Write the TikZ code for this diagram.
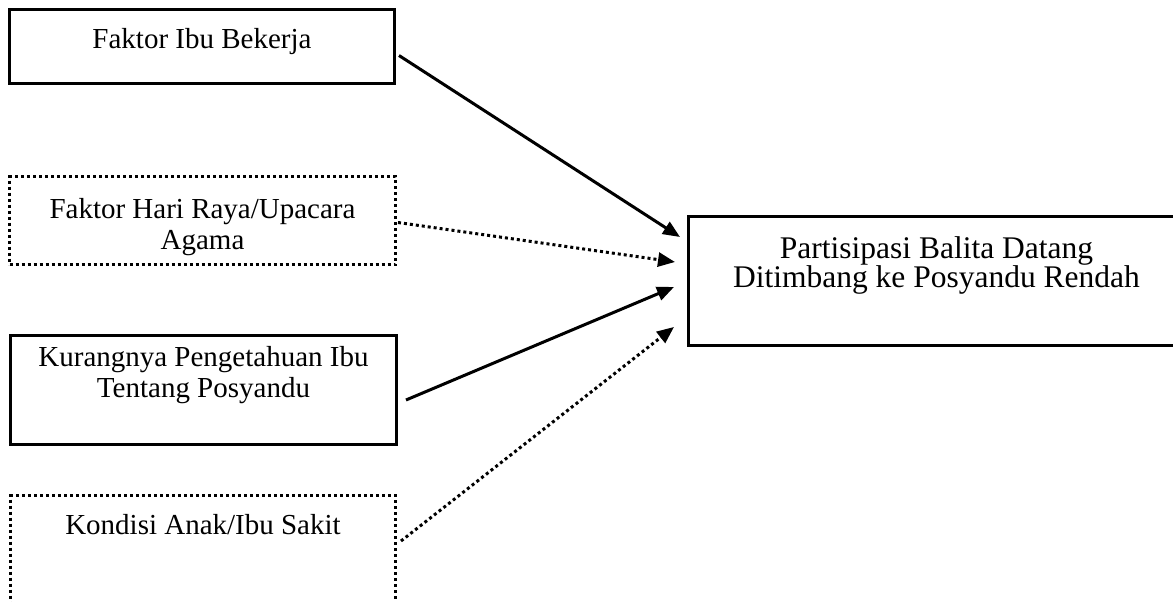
\documentclass[tikz,border=0pt]{standalone}
\usepackage{fontspec}
\setmainfont{Liberation Serif}
\usetikzlibrary{arrows.meta}

% isi kotak: tinggi, lebar, jarak garis dasar pertama, teks
\newcommand{\isikotak}[4]{\parbox[t][#1][t]{#2}{\centering\rule{0pt}{#3}#4}}

\begin{document}
\begin{tikzpicture}[x=1pt, y=-1pt,
  kotak/.style={draw, line width=3pt, inner sep=0pt, anchor=north west},
  titik/.style={dash pattern=on 3pt off 3pt},
  panah/.style={line width=3pt, -{Triangle[length=17pt,width=14pt]}},
  every node/.style={font=\fontsize{29}{31}\selectfont}]
\useasboundingbox (0,0) rectangle (1173,602);

% faktor-faktor
\node[kotak] (kerja) at (8,8) {\isikotak{74pt}{385pt}{39pt}{Faktor Ibu Bekerja}};
\node[kotak, titik] (raya) at (8,175) {\isikotak{88pt}{386pt}{42pt}{Faktor Hari Raya/Upacara\\ Agama}};
\node[kotak] (tahu) at (9,334) {\isikotak{109pt}{386pt}{31pt}{Kurangnya Pengetahuan Ibu\\ Tentang Posyandu}};
\node[kotak, titik] (sakit) at (9,494) {\isikotak{150pt}{385pt}{39pt}{Kondisi Anak/Ibu Sakit}};

% akibat
\node[kotak, font=\fontsize{31.5}{29}\selectfont] (rendah) at (687,215) {\isikotak{129pt}{496pt}{42pt}{Partisipasi Balita Datang\\ Ditimbang ke Posyandu Rendah}};

\draw[panah] ([shift={(3,9)}]kerja.east) -- ([shift={(-7,-44)}]rendah.west);
\draw[panah, titik] ([shift={(1,2)}]raya.east) -- ([shift={(-12,-19)}]rendah.west);
\draw[panah] ([shift={(8,10)}]tahu.east) -- ([shift={(-13,6)}]rendah.west);
\draw[panah, titik] ([shift={(4,47)}]sakit.north east) -- ([shift={(-13,46)}]rendah.west);
\end{tikzpicture}
\end{document}
